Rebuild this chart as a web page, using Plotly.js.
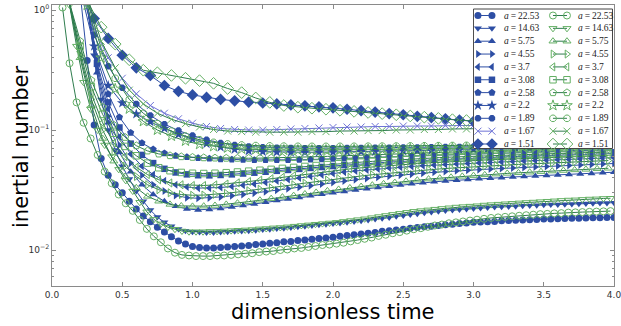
<!DOCTYPE html>
<html>
<head>
<meta charset="utf-8">
<script src="https://cdn.plot.ly/plotly-3.0.1.min.js"></script>
<style>
  html, body { margin: 0; padding: 0; background: #fff; }
  #chart { width: 621px; height: 326px; }
</style>
</head>
<body>
<div id="chart"></div>
<script>
// Sampling times of the two runs (blue = filled markers, green = open markers)
const TB05 = [0.20,0.25,0.30,0.35,0.40,0.45,0.50,0.55,0.60,0.65,0.70,0.75,0.80,0.85,0.90,0.95,1.00,1.05,1.10,1.15,1.20,1.25,1.30,1.35,1.40,1.45,1.50,1.55,1.60,1.65,1.70,1.75,1.80,1.85,1.90,1.95,2.00,2.05,2.10,2.15,2.20,2.25,2.30,2.35,2.40,2.45,2.50,2.55,2.60,2.65,2.70,2.75,2.80,2.85,2.90,2.95,3.00,3.05,3.10,3.15,3.20,3.25,3.30,3.35,3.40,3.45,3.50,3.55,3.60,3.65,3.70,3.75,3.80,3.85,3.90,3.95,4.00];
const TG05 = [0.075,0.125,0.175,0.225,0.275,0.325,0.375,0.425,0.475,0.525,0.575,0.625,0.675,0.725,0.775,0.825,0.875,0.925,0.975,1.025,1.075,1.125,1.175,1.225,1.275,1.325,1.375,1.425,1.475,1.525,1.575,1.625,1.675,1.725,1.775,1.825,1.875,1.925,1.975,2.025,2.075,2.125,2.175,2.225,2.275,2.325,2.375,2.425,2.475,2.525,2.575,2.625,2.675,2.725,2.775,2.825,2.875,2.925,2.975,3.025,3.075,3.125,3.175,3.225,3.275,3.325,3.375,3.425,3.475,3.525,3.575,3.625,3.675,3.725,3.775,3.825,3.875,3.925,3.975];
const TB08 = [0.24,0.32,0.40,0.48,0.56,0.64,0.72,0.80,0.88,0.96,1.04,1.12,1.20,1.28,1.36,1.44,1.52,1.60,1.68,1.76,1.84,1.92,2.00,2.08,2.16,2.24,2.32,2.40,2.48,2.56,2.64,2.72,2.80,2.88,2.96,3.04,3.12,3.20,3.28,3.36,3.44,3.52,3.60,3.68,3.76,3.84,3.92,4.00];
const TG08 = [0.12,0.20,0.28,0.36,0.44,0.52,0.60,0.68,0.76,0.84,0.92,1.00,1.08,1.16,1.24,1.32,1.40,1.48,1.56,1.64,1.72,1.80,1.88,1.96,2.04,2.12,2.20,2.28,2.36,2.44,2.52,2.60,2.68,2.76,2.84,2.92,3.00,3.08,3.16,3.24,3.32,3.40,3.48,3.56,3.64,3.72,3.80,3.88,3.96];
const TB10 = [0.2,0.3,0.4,0.5,0.6,0.7,0.8,0.9,1.0,1.1,1.2,1.3,1.4,1.5,1.6,1.7,1.8,1.9,2.0,2.1,2.2,2.3,2.4,2.5,2.6,2.7,2.8,2.9,3.0,3.1,3.2,3.3,3.4,3.5,3.6,3.7,3.8,3.9,4.0];
const TG10 = [0.25,0.35,0.45,0.55,0.65,0.75,0.85,0.95,1.05,1.15,1.25,1.35,1.45,1.55,1.65,1.75,1.85,1.95,2.05,2.15,2.25,2.35,2.45,2.55,2.65,2.75,2.85,2.95,3.05,3.15,3.25,3.35,3.45,3.55,3.65,3.75,3.85,3.95];

// Legend labels (aspect ratio a) and marker shapes
const aValues = ['22.53','14.63','5.75','4.55','3.7','3.08','2.58','2.2','1.89','1.67','1.51'];
const shapes  = ['circle','triangle-down','triangle-up','triangle-right','triangle-left','square','pentagon','star','octagon','x-thin','diamond'];
const sizes   = [7,7,7,7,7,6.5,7.5,8,7,7,9];

// Inertial number, blue runs
const blue_22_53 = [1.4,0.38,0.11,0.058,0.042,0.035,0.030,0.0255,0.0220,0.0192,0.0172,0.0155,0.0141,0.0129,0.0119,0.0112,0.0107,0.0105,0.0104,0.0104,0.0105,0.0106,0.0107,0.0108,0.0109,0.0111,0.0112,0.0114,0.0115,0.0117,0.0118,0.0120,0.0121,0.0123,0.0125,0.0126,0.0128,0.0130,0.0132,0.0134,0.0136,0.0138,0.0140,0.0143,0.0145,0.0147,0.0149,0.0152,0.0154,0.0156,0.0158,0.0160,0.0162,0.0164,0.0166,0.0168,0.0170,0.0171,0.0172,0.0173,0.0175,0.0176,0.0177,0.0178,0.0179,0.0180,0.0181,0.0181,0.0182,0.0183,0.0184,0.0184,0.0185,0.0186,0.0186,0.0187,0.0187];
const blue_14_63 = [1.2,0.42,0.18,0.10,0.068,0.050,0.039,0.031,0.0255,0.0215,0.0188,0.0170,0.0158,0.0150,0.0145,0.0142,0.0141,0.0140,0.0140,0.0141,0.0142,0.0143,0.0144,0.0145,0.0146,0.0148,0.0149,0.0151,0.0152,0.0154,0.0156,0.0158,0.0160,0.0162,0.0164,0.0166,0.0168,0.0170,0.0173,0.0175,0.0178,0.0181,0.0184,0.0187,0.0191,0.0194,0.0198,0.0201,0.0204,0.0207,0.0210,0.0213,0.0216,0.0218,0.0220,0.0222,0.0224,0.0226,0.0228,0.0229,0.0231,0.0232,0.0234,0.0235,0.0236,0.0238,0.0239,0.0240,0.0241,0.0242,0.0243,0.0244,0.0245,0.0246,0.0247,0.0248];
const blue_5_75 = [1.3,0.30,0.115,0.065,0.045,0.035,0.029,0.0255,0.0232,0.0220,0.0216,0.0218,0.0222,0.0228,0.0235,0.0242,0.0250,0.0258,0.0266,0.0274,0.0283,0.0292,0.0300,0.0308,0.0316,0.0324,0.0332,0.0340,0.0348,0.0356,0.0363,0.0370,0.0376,0.0382,0.0387,0.0392,0.0397,0.0401,0.0406,0.0410,0.0414,0.0418,0.0422,0.0426,0.0430,0.0435,0.0440,0.0445];
const blue_4_55 = [1.3,0.32,0.13,0.075,0.053,0.042,0.035,0.031,0.0285,0.0273,0.0270,0.0272,0.0277,0.0283,0.0290,0.0298,0.0306,0.0315,0.0324,0.0334,0.0344,0.0355,0.0366,0.0376,0.0386,0.0395,0.0404,0.0413,0.0421,0.0429,0.0437,0.0444,0.0451,0.0457,0.0463,0.0468,0.0473,0.0478,0.0483,0.0488,0.0492,0.0497,0.0501,0.0506,0.0511,0.0516,0.0521,0.0526];
const blue_3_7 = [1.3,0.34,0.15,0.088,0.063,0.050,0.0425,0.0378,0.0350,0.0335,0.0328,0.0328,0.0332,0.0338,0.0346,0.0355,0.0365,0.0376,0.0387,0.0399,0.0411,0.0423,0.0435,0.0446,0.0456,0.0465,0.0474,0.0482,0.0490,0.0497,0.0504,0.0510,0.0516,0.0522,0.0527,0.0532,0.0537,0.0542,0.0547,0.0551,0.0556,0.0560,0.0565,0.0569,0.0574,0.0578,0.0583,0.0588];
const blue_3_08 = [1.3,0.36,0.17,0.105,0.077,0.062,0.053,0.0475,0.0443,0.0427,0.0420,0.0419,0.0422,0.0427,0.0434,0.0441,0.0449,0.0457,0.0465,0.0474,0.0483,0.0492,0.0501,0.0510,0.0518,0.0526,0.0533,0.0540,0.0547,0.0553,0.0559,0.0565,0.0571,0.0576,0.0581,0.0586,0.0591,0.0596,0.0600,0.0605,0.0609,0.0613,0.0617,0.0621,0.0625,0.0629,0.0633,0.0637];
const blue_2_58 = [1.3,0.40,0.20,0.128,0.095,0.078,0.069,0.064,0.061,0.0595,0.0585,0.0578,0.0572,0.0568,0.0565,0.0563,0.0562,0.0562,0.0563,0.0565,0.0568,0.0572,0.0576,0.0580,0.0585,0.0590,0.0595,0.0600,0.0605,0.0610,0.0615,0.0620,0.0625,0.0630,0.0635,0.0640,0.0644,0.0648,0.0652,0.0656,0.0660,0.0664,0.0668,0.0672,0.0676,0.0680,0.0684,0.0688];
const blue_2_2 = [1.5,0.50,0.235,0.168,0.136,0.117,0.103,0.092,0.084,0.077,0.072,0.069,0.067,0.066,0.0655,0.0652,0.0652,0.0653,0.0655,0.0658,0.0661,0.0664,0.0667,0.0670,0.0673,0.0676,0.0680,0.0683,0.0687,0.0690,0.0694,0.0697,0.0701,0.0704,0.0708,0.0711,0.0715,0.0718,0.0722];
const blue_1_89 = [1.6,0.62,0.34,0.225,0.165,0.132,0.112,0.099,0.090,0.083,0.078,0.075,0.073,0.0718,0.0711,0.0707,0.0705,0.0705,0.0706,0.0707,0.0709,0.0711,0.0713,0.0715,0.0717,0.0719,0.0721,0.0723,0.0725,0.0727,0.0729,0.0731,0.0733,0.0735,0.0737,0.0739,0.0741,0.0743,0.0745];
const blue_1_67 = [1.6,0.70,0.40,0.27,0.200,0.160,0.138,0.124,0.114,0.107,0.103,0.101,0.100,0.100,0.101,0.102,0.103,0.104,0.105,0.106,0.106,0.107,0.107,0.108,0.108,0.108,0.109,0.109,0.109,0.110,0.110,0.110,0.111,0.111,0.111,0.112,0.112,0.112,0.113];
const blue_1_51 = [1.6,0.85,0.58,0.42,0.33,0.285,0.235,0.210,0.196,0.187,0.180,0.175,0.171,0.168,0.165,0.162,0.159,0.156,0.153,0.149,0.145,0.141,0.137,0.134,0.130,0.127,0.124,0.121,0.118,0.116,0.113,0.111,0.109,0.107,0.105,0.103,0.101,0.099,0.097];

// Inertial number, green runs
const green_22_53 = [1.05,0.36,0.17,0.115,0.085,0.062,0.045,0.036,0.029,0.0245,0.0212,0.0178,0.0150,0.0130,0.0116,0.0103,0.0095,0.0091,0.0090,0.0089,0.0089,0.0089,0.0090,0.0090,0.0091,0.0092,0.0093,0.0094,0.0096,0.0097,0.0098,0.0100,0.0101,0.0103,0.0104,0.0106,0.0108,0.0110,0.0111,0.0113,0.0115,0.0118,0.0121,0.0124,0.0127,0.0131,0.0134,0.0138,0.0141,0.0145,0.0149,0.0152,0.0156,0.0160,0.0163,0.0167,0.0170,0.0173,0.0176,0.0179,0.0182,0.0185,0.0187,0.0189,0.0191,0.0193,0.0195,0.0197,0.0199,0.0200,0.0202,0.0203,0.0205,0.0206,0.0207,0.0208,0.0209,0.0210,0.0211];
const green_14_63 = [1.1,0.50,0.25,0.15,0.10,0.075,0.060,0.047,0.038,0.031,0.025,0.0208,0.0180,0.0165,0.0155,0.0149,0.0144,0.0142,0.0142,0.0142,0.0143,0.0143,0.0144,0.0145,0.0146,0.0147,0.0148,0.0150,0.0151,0.0153,0.0154,0.0156,0.0158,0.0160,0.0162,0.0164,0.0166,0.0168,0.0170,0.0173,0.0176,0.0179,0.0182,0.0186,0.0190,0.0194,0.0198,0.0202,0.0206,0.0210,0.0213,0.0216,0.0219,0.0222,0.0225,0.0228,0.0230,0.0232,0.0234,0.0237,0.0239,0.0241,0.0243,0.0245,0.0247,0.0249,0.0251,0.0253,0.0255,0.0257,0.0259,0.0261,0.0262,0.0264,0.0266,0.0267,0.0269,0.0270];
const green_5_75 = [1.2,0.40,0.16,0.085,0.055,0.041,0.033,0.028,0.0255,0.0240,0.0233,0.0231,0.0232,0.0235,0.0240,0.0246,0.0253,0.0260,0.0268,0.0276,0.0284,0.0293,0.0302,0.0311,0.0320,0.0329,0.0338,0.0347,0.0356,0.0365,0.0374,0.0382,0.0390,0.0397,0.0404,0.0411,0.0417,0.0423,0.0429,0.0435,0.0440,0.0445,0.0450,0.0455,0.0460,0.0465,0.0470,0.0475,0.0480];
const green_4_55 = [1.2,0.42,0.18,0.10,0.066,0.050,0.041,0.035,0.0318,0.0300,0.0290,0.0286,0.0287,0.0291,0.0297,0.0304,0.0312,0.0321,0.0330,0.0340,0.0350,0.0361,0.0372,0.0383,0.0394,0.0404,0.0414,0.0424,0.0433,0.0442,0.0451,0.0459,0.0467,0.0474,0.0481,0.0488,0.0494,0.0500,0.0506,0.0512,0.0517,0.0522,0.0527,0.0532,0.0537,0.0542,0.0547,0.0552,0.0557];
const green_3_7 = [1.2,0.45,0.20,0.115,0.078,0.060,0.049,0.0425,0.0385,0.0362,0.0350,0.0345,0.0345,0.0349,0.0355,0.0363,0.0372,0.0382,0.0393,0.0404,0.0416,0.0428,0.0440,0.0452,0.0463,0.0474,0.0484,0.0493,0.0502,0.0510,0.0518,0.0525,0.0532,0.0539,0.0545,0.0551,0.0557,0.0562,0.0567,0.0572,0.0577,0.0582,0.0587,0.0591,0.0596,0.0600,0.0605,0.0609,0.0614];
const green_3_08 = [1.2,0.50,0.23,0.135,0.094,0.073,0.061,0.053,0.0485,0.0458,0.0443,0.0436,0.0434,0.0436,0.0441,0.0447,0.0454,0.0462,0.0470,0.0479,0.0488,0.0497,0.0506,0.0515,0.0524,0.0532,0.0540,0.0548,0.0556,0.0563,0.0570,0.0577,0.0583,0.0589,0.0595,0.0600,0.0605,0.0610,0.0615,0.0620,0.0624,0.0628,0.0632,0.0636,0.0640,0.0644,0.0648,0.0652,0.0656];
const green_2_58 = [1.2,0.55,0.26,0.155,0.110,0.087,0.074,0.067,0.0632,0.0612,0.0600,0.0593,0.0588,0.0585,0.0583,0.0582,0.0582,0.0583,0.0585,0.0588,0.0591,0.0595,0.0599,0.0603,0.0608,0.0613,0.0618,0.0623,0.0628,0.0633,0.0638,0.0643,0.0648,0.0653,0.0658,0.0663,0.0667,0.0671,0.0675,0.0679,0.0683,0.0687,0.0691,0.0695,0.0699,0.0703,0.0707,0.0711,0.0715];
const green_2_2 = [1.1,0.40,0.22,0.150,0.118,0.100,0.089,0.081,0.076,0.073,0.071,0.0695,0.0688,0.0683,0.0680,0.0679,0.0679,0.0680,0.0682,0.0684,0.0687,0.0690,0.0693,0.0696,0.0699,0.0702,0.0705,0.0708,0.0711,0.0714,0.0717,0.0720,0.0723,0.0726,0.0729,0.0732,0.0735,0.0738];
const green_1_89 = [1.2,0.48,0.27,0.180,0.138,0.113,0.098,0.089,0.083,0.079,0.0765,0.0750,0.0742,0.0737,0.0734,0.0732,0.0731,0.0731,0.0731,0.0732,0.0733,0.0734,0.0735,0.0737,0.0739,0.0741,0.0743,0.0745,0.0747,0.0749,0.0751,0.0753,0.0755,0.0757,0.0759,0.0761,0.0763,0.0765];
const green_1_67 = [1.3,0.55,0.33,0.215,0.165,0.138,0.123,0.113,0.106,0.101,0.098,0.097,0.096,0.096,0.096,0.096,0.097,0.097,0.098,0.098,0.099,0.099,0.100,0.100,0.101,0.101,0.102,0.102,0.103,0.103,0.104,0.104,0.105,0.105,0.106,0.106,0.107,0.107];
const green_1_51 = [1.2,0.72,0.52,0.385,0.315,0.300,0.285,0.270,0.258,0.245,0.222,0.205,0.185,0.170,0.160,0.155,0.152,0.149,0.146,0.143,0.140,0.137,0.134,0.131,0.128,0.125,0.122,0.120,0.118,0.116,0.114,0.112,0.110,0.108,0.106,0.104,0.102,0.100];

const blueRuns = [
  [TB05, blue_22_53], [TB05.slice(1), blue_14_63], [TB08, blue_5_75], [TB08, blue_4_55],
  [TB08, blue_3_7], [TB08, blue_3_08], [TB08, blue_2_58], [TB10, blue_2_2],
  [TB10, blue_1_89], [TB10, blue_1_67], [TB10, blue_1_51]
];
const greenRuns = [
  [TG05, green_22_53], [TG05.slice(1), green_14_63], [TG08, green_5_75], [TG08, green_4_55],
  [TG08, green_3_7], [TG08, green_3_08], [TG08, green_2_58], [TG10, green_2_2],
  [TG10, green_1_89], [TG10, green_1_67], [TG10, green_1_51]
];

const BLUE = '#2d4ea4';
const BLUE_X = '#6f74d6';
const GREEN = '#64b064';
const GREEN_LINE = '#2f7d4e';

function blueStyle(i) {
  const isX = shapes[i] === 'x-thin';
  return {
    line: { color: isX ? BLUE_X : BLUE, width: 1 },
    marker: {
      symbol: shapes[i], size: sizes[i], color: isX ? BLUE_X : BLUE,
      line: { color: isX ? BLUE_X : BLUE, width: isX ? 1 : 0 }
    }
  };
}
function greenStyle(i) {
  const sym = shapes[i] === 'x-thin' ? 'x-thin' : shapes[i] + '-open';
  return {
    line: { color: GREEN_LINE, width: 1 },
    marker: { symbol: sym, size: sizes[i], color: GREEN, line: { color: GREEN, width: 1 } }
  };
}

const traces = [];
blueRuns.forEach(([t, v], i) => {
  traces.push(Object.assign({ type: 'scatter', mode: 'lines+markers', x: t, y: v,
    name: 'a=' + aValues[i], showlegend: false, hoverinfo: 'skip' }, blueStyle(i)));
});
greenRuns.forEach(([t, v], i) => {
  traces.push(Object.assign({ type: 'scatter', mode: 'lines+markers', x: t, y: v,
    name: 'a=' + aValues[i], showlegend: false, hoverinfo: 'skip' }, greenStyle(i)));
});

const titleFont = { family: 'DejaVu Sans, sans-serif', size: 21, color: '#000' };

// Axis titles
const annotations = [
  { xref: 'paper', yref: 'paper', x: 0.5, y: -0.0935, xanchor: 'center', yanchor: 'middle',
    showarrow: false, text: 'dimensionless time', font: titleFont },
  { xref: 'paper', yref: 'paper', x: -0.0552, y: 0.4947, xanchor: 'center', yanchor: 'middle',
    textangle: -90, showarrow: false, text: 'inertial number', font: titleFont }
];

// Two-column key drawn in its own small panel (x2/y2 are pixel-like units)
aValues.forEach((a, i) => {
  const row = 133.5 - 12.85 * i;
  traces.push(Object.assign({ type: 'scatter', mode: 'lines+markers', x: [5, 19], y: [row, row],
    xaxis: 'x2', yaxis: 'y2', showlegend: false, hoverinfo: 'skip', cliponaxis: false }, blueStyle(i)));
  traces.push(Object.assign({ type: 'scatter', mode: 'lines+markers', x: [80, 94], y: [row, row],
    xaxis: 'x2', yaxis: 'y2', showlegend: false, hoverinfo: 'skip', cliponaxis: false }, greenStyle(i)));
  [29, 103].forEach(xp => annotations.push({
    xref: 'x2', yref: 'y2', x: xp, y: row, xanchor: 'left', yanchor: 'middle', showarrow: false,
    text: '<i>a</i>\u2009=\u2009' + a,
    font: { family: 'Liberation Serif, DejaVu Serif, serif', size: 9.5, color: '#222' }
  }));
});

const minorY = [0.006,0.007,0.008,0.009,0.02,0.03,0.04,0.05,0.06,0.07,0.08,0.09,0.2,0.3,0.4,0.5,0.6,0.7,0.8,0.9];
const tickFont = { family: 'DejaVu Sans, sans-serif', size: 9, color: '#333' };

const layout = {
  width: 621, height: 326,
  margin: { l: 52, r: 7, t: 5, b: 40 },
  paper_bgcolor: '#fff', plot_bgcolor: '#fff',
  showlegend: false,
  xaxis: {
    range: [0, 4], showgrid: false, zeroline: false,
    showline: true, mirror: 'ticks', linecolor: '#8a8a8a', linewidth: 1,
    ticks: 'inside', ticklen: 4, tickcolor: '#8a8a8a',
    tickvals: [0, 0.5, 1, 1.5, 2, 2.5, 3, 3.5, 4],
    ticktext: ['0.0', '0.5', '1.0', '1.5', '2.0', '2.5', '3.0', '3.5', '4.0'],
    ticklabeloverflow: 'allow',
    tickfont: tickFont
  },
  yaxis: {
    type: 'log', range: [-2.3, 0.042], showgrid: false, zeroline: false,
    showline: true, mirror: 'ticks', linecolor: '#8a8a8a', linewidth: 1,
    ticks: 'inside', ticklen: 4, tickcolor: '#8a8a8a',
    tickvals: [0.01, 0.1, 1],
    ticktext: ['10<sup>\u22122</sup>', '10<sup>\u22121</sup>', '10<sup>0</sup>'],
    tickfont: tickFont,
    minor: { ticks: 'inside', ticklen: 2, tickcolor: '#8a8a8a', tickvals: minorY, showgrid: false }
  },
  xaxis2: { domain: [0.749, 1], range: [0, 141], anchor: 'y2', visible: false, fixedrange: true },
  yaxis2: { domain: [0.4875, 1], range: [0, 144], anchor: 'x2', visible: false, fixedrange: true },
  shapes: [{
    type: 'rect', xref: 'x2', yref: 'y2', layer: 'below',
    x0: 0.5, x1: 139.5, y0: 0.5, y1: 140,
    fillcolor: '#fff', line: { color: '#444', width: 1 }
  }],
  annotations: annotations
};

Plotly.newPlot('chart', traces, layout, { staticPlot: true, displayModeBar: false });
</script>
</body>
</html>
